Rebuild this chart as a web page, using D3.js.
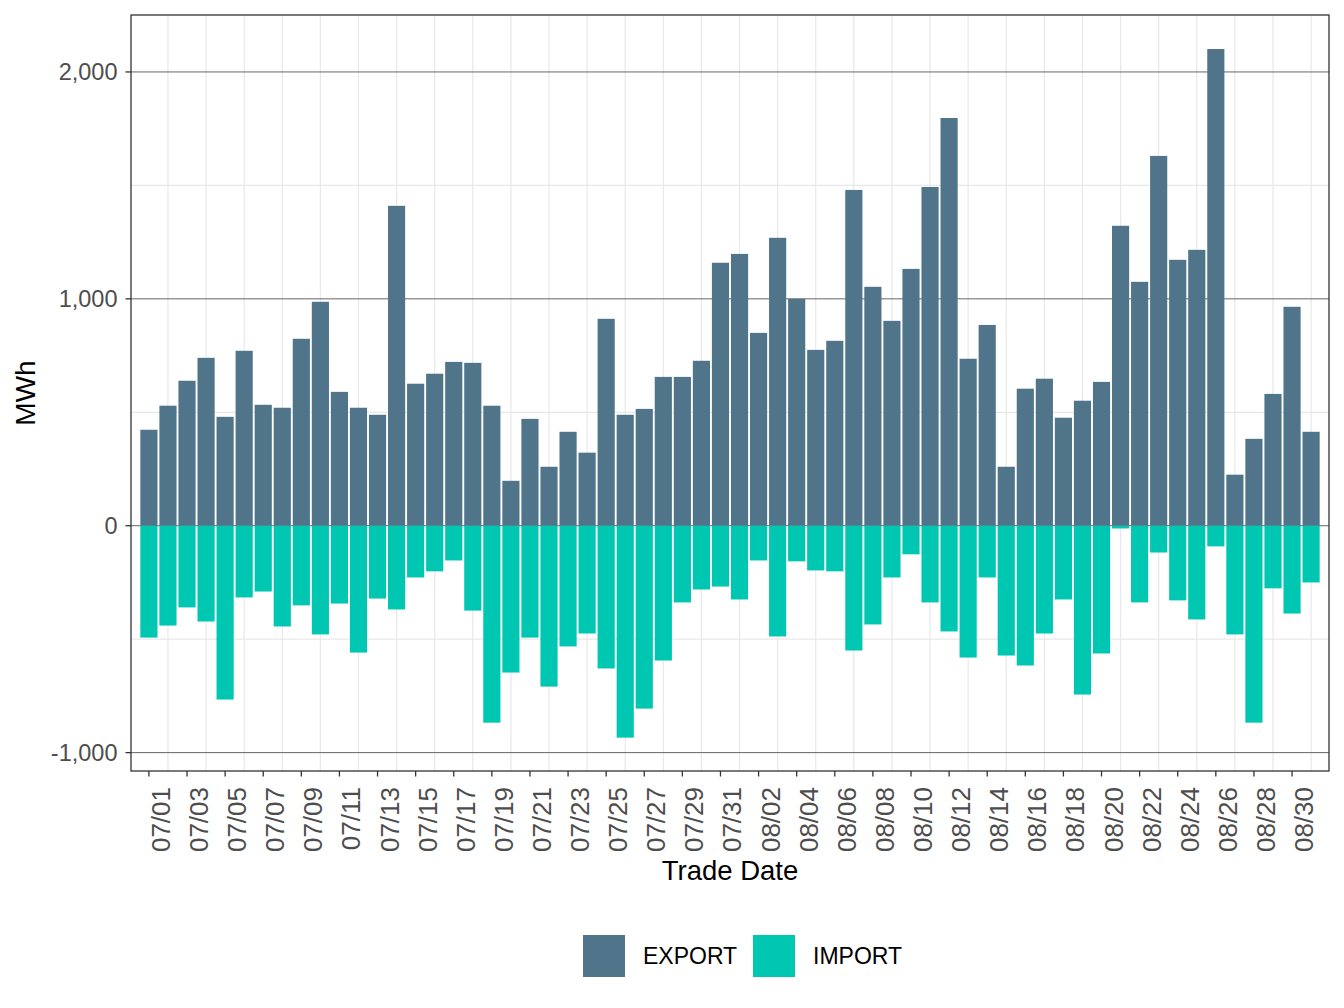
<!DOCTYPE html>
<html>
<head>
<meta charset="utf-8">
<script src="https://cdn.jsdelivr.net/npm/d3@7"></script>
<style>
  body { margin: 0; background: #fff; }
  svg text { font-family: "Liberation Sans", Arial, Helvetica, sans-serif; }
</style>
</head>
<body>
<div id="chart"></div>
<script>
// Trade dates (categories)
var tradeDates = [
  '07/01','07/02','07/03','07/04','07/05','07/06','07/07','07/08','07/09','07/10',
  '07/11','07/12','07/13','07/14','07/15','07/16','07/17','07/18','07/19','07/20',
  '07/21','07/22','07/23','07/24','07/25','07/26','07/27','07/28','07/29','07/30',
  '07/31','08/01','08/02','08/03','08/04','08/05','08/06','08/07','08/08','08/09',
  '08/10','08/11','08/12','08/13','08/14','08/15','08/16','08/17','08/18','08/19',
  '08/20','08/21','08/22','08/23','08/24','08/25','08/26','08/27','08/28','08/29',
  '08/30','08/31'
];

// EXPORT, MWh
var exportValues = [
  423, 529, 639, 740, 480, 771, 533, 520, 824, 987,
  590, 520, 489, 1410, 626, 670, 722, 718, 529, 198,
  471, 260, 414, 322, 912, 489, 515, 656, 656, 727,
  1159, 1198, 850, 1269, 1000, 775, 815, 1480, 1053, 903,
  1132, 1493, 1797, 736, 885, 260, 604, 648, 476, 551,
  634, 1322, 1075, 1630, 1172, 1216, 2101, 225, 383, 581,
  965, 414
];

// IMPORT, MWh
var importValues = [
  -493, -440, -360, -422, -766, -316, -290, -444, -351, -479,
  -343, -559, -321, -369, -228, -201, -153, -374, -868, -647,
  -493, -709, -532, -475, -629, -934, -806, -594, -338, -281,
  -268, -325, -153, -488, -157, -197, -201, -550, -435, -228,
  -126, -338, -466, -581, -228, -572, -616, -475, -325, -744,
  -563, -12, -338, -118, -329, -413, -91, -479, -868, -276,
  -387, -250
];

var yTicks = [-1000, 0, 1000, 2000];
var yMinorTicks = [-500, 500, 1500];
var seriesNames = ['EXPORT', 'IMPORT'];
var seriesColors = ['#50758a', '#00c7b1'];

// Layout
var width = 1344, height = 1008;
var plot = { left: 131, right: 1329, top: 15, bottom: 771 };

var svg = d3.select('#chart').append('svg')
  .attr('width', width)
  .attr('height', height);

var x = d3.scaleBand()
  .domain(tradeDates)
  .range([plot.left, plot.right])
  .paddingInner(0.1)
  .paddingOuter(0.49);

var y = d3.scaleLinear()
  .domain([-1081, 2251])
  .range([plot.bottom, plot.top]);

// ggplot style labels: plain hyphen for negatives
var fmt = d => d3.format(',')(d).replace('\u2212', '-');

// Panel grid
var grid = svg.append('g');

grid.selectAll('line.vgrid')
  .data(tradeDates.filter((d, i) => i % 2 === 1))
  .join('line')
    .attr('class', 'vgrid')
    .attr('x1', d => x(d) + x.bandwidth() / 2)
    .attr('x2', d => x(d) + x.bandwidth() / 2)
    .attr('y1', plot.top)
    .attr('y2', plot.bottom)
    .attr('stroke', '#e8e8e8')
    .attr('stroke-width', 1.2);

grid.selectAll('line.hminor')
  .data(yMinorTicks)
  .join('line')
    .attr('class', 'hminor')
    .attr('x1', plot.left)
    .attr('x2', plot.right)
    .attr('y1', d => y(d))
    .attr('y2', d => y(d))
    .attr('stroke', '#e8e8e8')
    .attr('stroke-width', 1.2);

grid.selectAll('line.hmajor')
  .data(yTicks)
  .join('line')
    .attr('class', 'hmajor')
    .attr('x1', plot.left)
    .attr('x2', plot.right)
    .attr('y1', d => y(d))
    .attr('y2', d => y(d))
    .attr('stroke', '#666666')
    .attr('stroke-width', 1);

// Bars
var bars = svg.append('g');

bars.selectAll('rect.export')
  .data(tradeDates.map((d, i) => ({ date: d, value: exportValues[i] })))
  .join('rect')
    .attr('class', 'export')
    .attr('x', d => x(d.date))
    .attr('width', x.bandwidth())
    .attr('y', d => y(d.value))
    .attr('height', d => y(0) - y(d.value))
    .attr('fill', seriesColors[0]);

bars.selectAll('rect.import')
  .data(tradeDates.map((d, i) => ({ date: d, value: importValues[i] })))
  .join('rect')
    .attr('class', 'import')
    .attr('x', d => x(d.date))
    .attr('width', x.bandwidth())
    .attr('y', y(0))
    .attr('height', d => y(d.value) - y(0))
    .attr('fill', seriesColors[1]);

// Panel border
svg.append('rect')
  .attr('x', plot.left)
  .attr('y', plot.top)
  .attr('width', plot.right - plot.left)
  .attr('height', plot.bottom - plot.top)
  .attr('fill', 'none')
  .attr('stroke', '#333333')
  .attr('stroke-width', 1.3);

// Y axis
var yAxis = svg.append('g');

yAxis.selectAll('line')
  .data(yTicks)
  .join('line')
    .attr('x1', plot.left - 5.5)
    .attr('x2', plot.left)
    .attr('y1', d => y(d))
    .attr('y2', d => y(d))
    .attr('stroke', '#333333')
    .attr('stroke-width', 1.3);

yAxis.selectAll('text')
  .data(yTicks)
  .join('text')
    .attr('x', plot.left - 13.5)
    .attr('y', d => y(d))
    .attr('dy', '0.36em')
    .attr('text-anchor', 'end')
    .attr('font-size', 23.5)
    .attr('fill', '#4d4d4d')
    .text(d => fmt(d));

// X axis
var xTickDates = tradeDates.filter((d, i) => i % 2 === 0);
var xAxis = svg.append('g');

xAxis.selectAll('line')
  .data(xTickDates)
  .join('line')
    .attr('x1', d => x(d) + x.bandwidth() / 2)
    .attr('x2', d => x(d) + x.bandwidth() / 2)
    .attr('y1', plot.bottom)
    .attr('y2', plot.bottom + 5.5)
    .attr('stroke', '#333333')
    .attr('stroke-width', 1.3);

xAxis.selectAll('text')
  .data(xTickDates)
  .join('text')
    .attr('transform', d => 'translate(' + (x(d) + x.bandwidth() / 2 + 21) + ',' + (plot.bottom + 16) + ') rotate(-90)')
    .attr('text-anchor', 'end')
    .attr('font-size', 26)
    .attr('fill', '#4d4d4d')
    .text(d => d);

// Axis titles
svg.append('text')
  .attr('x', (plot.left + plot.right) / 2)
  .attr('y', 880)
  .attr('text-anchor', 'middle')
  .attr('font-size', 27.5)
  .attr('fill', '#000')
  .text('Trade Date');

svg.append('text')
  .attr('transform', 'translate(35,' + ((plot.top + plot.bottom) / 2) + ') rotate(-90)')
  .attr('text-anchor', 'middle')
  .attr('font-size', 28)
  .attr('fill', '#000')
  .text('MWh');

// Legend
var legendX = [583, 753];
var legend = svg.append('g')
  .selectAll('g')
  .data(seriesNames)
  .join('g')
    .attr('transform', (d, i) => 'translate(' + legendX[i] + ',935)');

legend.append('rect')
  .attr('width', 42)
  .attr('height', 42)
  .attr('fill', (d, i) => seriesColors[i]);

legend.append('text')
  .attr('x', 60)
  .attr('y', 29)
  .attr('font-size', 23)
  .attr('fill', '#000')
  .text(d => d);
</script>
</body>
</html>
